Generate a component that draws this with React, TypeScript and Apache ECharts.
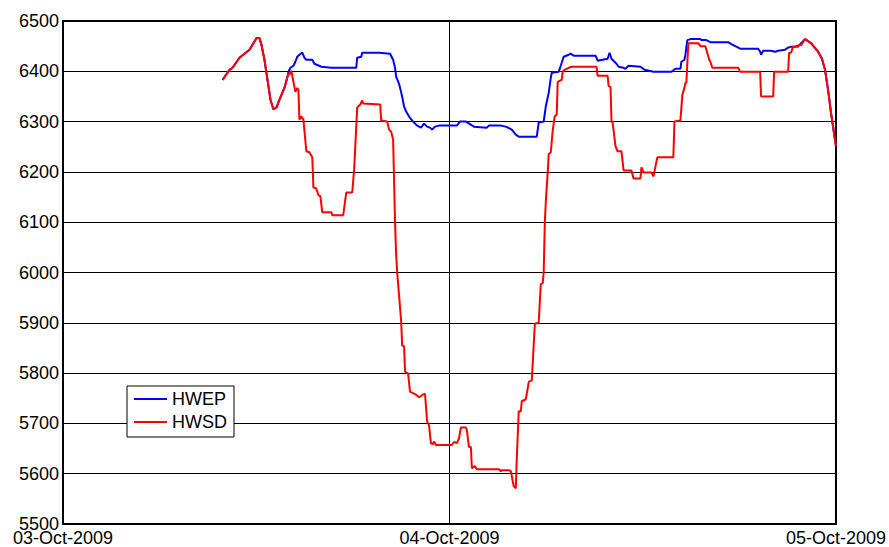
import React, { useEffect, useRef } from "react";
import * as echarts from "echarts";

// x values are hours since 03-Oct-2009 00:00
const xTickLabels = ["03-Oct-2009", "04-Oct-2009", "05-Oct-2009"];
const seriesNames = ["HWEP", "HWSD"];

const commonStartHours = [9.91, 10.34, 10.53, 10.96, 11.58, 12.02, 12.2, 12.33, 12.51, 12.7, 12.88, 13.07, 13.25, 13.5, 13.75, 13.94];
const commonStartValues = [6383, 6403, 6407, 6427, 6443, 6466, 6466, 6452, 6423, 6383, 6344, 6324, 6328, 6348, 6367, 6389];

const commonEndHours = [46.08, 46.45, 46.89, 47.13, 47.32, 47.51, 47.69, 48.0];
const commonEndValues = [6464, 6456, 6439, 6425, 6403, 6363, 6318, 6251];

const hwepHours = [
  14.0, 14.12, 14.31, 14.43, 14.55, 14.68, 14.86, 14.99, 15.11, 15.48, 15.61, 16.04, 16.66, 18.21, 18.27, 18.52,
  18.58, 19.63, 20.31, 20.5, 20.62, 20.69, 20.87, 21.06, 21.18, 21.31, 21.49, 21.74, 21.99, 22.23, 22.42, 22.61,
  22.79, 22.92, 23.1, 23.35, 24.46, 24.65, 25.02, 25.33, 25.52, 26.32, 26.45, 27.19, 27.5, 27.87, 28.12, 28.3,
  29.42, 29.54, 29.85, 29.98, 30.16, 30.29, 30.35, 30.78, 30.91, 31.09, 31.4, 31.52, 31.71, 33.07, 33.2, 33.82,
  33.94, 34.06, 34.37, 34.5, 34.81, 34.93, 35.12, 35.86, 36.11, 36.67, 37.78, 38.03, 38.34, 38.4, 38.59, 38.65,
  38.77, 38.96, 39.58, 39.64, 39.95, 40.2, 41.31, 41.5, 41.93, 42.05, 43.17, 43.29, 43.35, 43.48, 43.97, 44.22,
  44.41, 44.84, 45.03, 45.21, 45.46, 45.65, 45.77, 45.83,
];
const hwepValues = [
  6399, 6407, 6411, 6419, 6429, 6433, 6437, 6427, 6423, 6423, 6415, 6409, 6407, 6407, 6427, 6429,
  6437, 6437, 6435, 6423, 6407, 6389, 6375, 6350, 6330, 6320, 6310, 6300, 6292, 6288, 6296, 6290,
  6288, 6284, 6290, 6292, 6292, 6300, 6300, 6294, 6290, 6288, 6292, 6292, 6290, 6284, 6274, 6270,
  6270, 6298, 6300, 6330, 6357, 6387, 6397, 6399, 6411, 6429, 6433, 6435, 6431, 6431, 6421, 6425,
  6437, 6425, 6415, 6409, 6407, 6405, 6411, 6409, 6403, 6399, 6399, 6405, 6405, 6419, 6423, 6433,
  6462, 6464, 6464, 6462, 6462, 6458, 6458, 6454, 6447, 6445, 6445, 6439, 6433, 6441, 6441, 6439,
  6441, 6443, 6447, 6449, 6449, 6451, 6452, 6456,
];

const hwsdHours = [
  14.0, 14.06, 14.18, 14.31, 14.43, 14.55, 14.62, 14.68, 14.8, 14.93, 15.11, 15.3, 15.48, 15.55, 15.73, 15.86,
  15.98, 16.1, 16.66, 16.72, 17.4, 17.59, 17.96, 18.08, 18.27, 18.46, 18.58, 18.64, 19.7, 19.76, 20.13, 20.25,
  20.38, 20.5, 20.62, 20.69, 20.75, 20.87, 21.0, 21.06, 21.18, 21.24, 21.43, 21.55, 21.92, 22.11, 22.3, 22.48,
  22.61, 22.73, 22.85, 22.98, 23.04, 23.16, 24.15, 24.28, 24.46, 24.59, 24.71, 25.02, 25.08, 25.21, 25.33, 25.39,
  25.58, 25.7, 27.07, 27.19, 27.25, 27.69, 27.81, 27.87, 27.99, 28.12, 28.18, 28.3, 28.43, 28.49, 28.74, 28.93,
  29.11, 29.3, 29.54, 29.67, 29.79, 29.85, 29.92, 29.98, 30.1, 30.16, 30.29, 30.41, 30.53, 30.66, 30.72, 30.97,
  31.03, 31.15, 31.4, 31.59, 33.13, 33.2, 33.82, 33.88, 34.0, 34.06, 34.13, 34.31, 34.44, 34.68, 34.81, 35.3,
  35.43, 35.86, 35.92, 36.05, 36.54, 36.67, 36.79, 36.91, 37.9, 37.97, 38.34, 38.46, 38.59, 38.65, 38.71, 38.83,
  39.45, 39.58, 39.89, 40.13, 40.2, 40.32, 41.93, 42.05, 43.29, 43.35, 44.1, 44.16, 45.03, 45.09, 45.21, 45.34,
  45.65, 45.77, 45.83,
];
const hwsdValues = [
  6397, 6393, 6401, 6379, 6359, 6367, 6363, 6304, 6310, 6304, 6241, 6239, 6229, 6169, 6167, 6154,
  6152, 6120, 6120, 6114, 6114, 6159, 6159, 6205, 6328, 6334, 6342, 6336, 6334, 6302, 6300, 6284,
  6280, 6264, 6100, 6033, 6001, 5954, 5902, 5855, 5853, 5803, 5799, 5763, 5757, 5752, 5756, 5759,
  5704, 5696, 5660, 5659, 5664, 5657, 5657, 5663, 5661, 5670, 5692, 5692, 5686, 5653, 5653, 5611,
  5615, 5609, 5609, 5605, 5607, 5607, 5605, 5595, 5575, 5571, 5631, 5724, 5724, 5744, 5748, 5783,
  5785, 5898, 5900, 5977, 5979, 6001, 6100, 6140, 6199, 6235, 6239, 6282, 6310, 6314, 6379, 6383,
  6399, 6403, 6407, 6409, 6409, 6391, 6391, 6371, 6369, 6300, 6298, 6251, 6241, 6241, 6203, 6203,
  6187, 6187, 6209, 6199, 6199, 6191, 6211, 6229, 6229, 6300, 6302, 6353, 6367, 6377, 6377, 6456,
  6456, 6450, 6450, 6423, 6419, 6407, 6407, 6399, 6399, 6350, 6350, 6399, 6399, 6437, 6437, 6449,
  6449, 6454, 6452,
];

function build(hours: number[], values: number[]): number[][] {
  const h = [...commonStartHours, ...hours, ...commonEndHours];
  const v = [...commonStartValues, ...values, ...commonEndValues];
  return h.map((x, i) => [x, v[i]]);
}

const FONT = "Liberation Sans, Arial, sans-serif";

export default function App() {
  const ref = useRef<HTMLDivElement>(null);
  useEffect(() => {
    if (!ref.current) return;
    const chart = echarts.init(ref.current, null, { renderer: "svg" });
    chart.setOption({
      animation: false,
      backgroundColor: "#ffffff",
      grid: {
        left: 63,
        right: 51,
        top: 21,
        bottom: 21,
        show: true,
        borderColor: "#000",
        borderWidth: 2,
        backgroundColor: "transparent",
      },
      legend: {
        data: seriesNames,
        orient: "vertical",
        left: 127,
        top: 386,
        backgroundColor: "#fff",
        borderColor: "#000",
        borderWidth: 1,
        borderRadius: 0,
        padding: [3, 7, 5, 7],
        itemGap: 3,
        itemWidth: 33,
        itemHeight: 2,
        icon: "rect",
        textStyle: { fontFamily: FONT, fontSize: 18, color: "#000", lineHeight: 20 },
      },
      xAxis: {
        type: "value",
        min: 0,
        max: 48,
        interval: 24,
        axisLine: { show: false },
        axisTick: { show: false },
        splitLine: { show: true, lineStyle: { color: "#000", width: 1 } },
        axisLabel: {
          fontFamily: FONT,
          fontSize: 18,
          color: "#000",
          margin: 5,
          formatter: (v: number) => xTickLabels[Math.round(v / 24)] ?? "",
        },
      },
      yAxis: {
        type: "value",
        min: 5500,
        max: 6500,
        interval: 100,
        axisLine: { show: false },
        axisTick: { show: false },
        splitLine: { show: true, lineStyle: { color: "#000", width: 1 } },
        axisLabel: {
          fontFamily: FONT,
          fontSize: 18,
          color: "#000",
          margin: 4,
          formatter: (v: number) => String(v),
        },
      },
      series: [
        {
          name: seriesNames[0],
          type: "line",
          data: build(hwepHours, hwepValues),
          showSymbol: false,
          itemStyle: { color: "#0000ff" },
          lineStyle: { color: "#0000ff", width: 2 },
          z: 2,
        },
        {
          name: seriesNames[1],
          type: "line",
          data: build(hwsdHours, hwsdValues),
          showSymbol: false,
          itemStyle: { color: "#ff0000" },
          lineStyle: { color: "#ff0000", width: 2 },
          z: 3,
        },
      ],
    });
    return () => chart.dispose();
  }, []);
  return (
    <div
      ref={ref}
      style={{ position: "fixed", left: 0, top: 0, width: 889, height: 547 }}
    />
  );
}
